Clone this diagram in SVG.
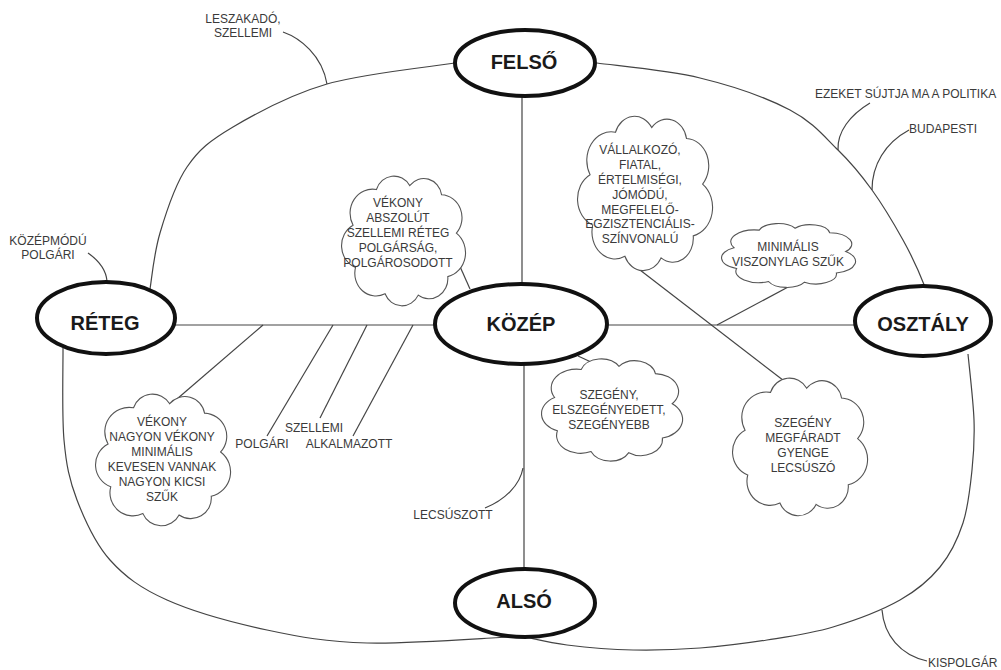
<svg xmlns="http://www.w3.org/2000/svg" xmlns:xlink="http://www.w3.org/1999/xlink" width="1001" height="670" viewBox="0 0 1001 670">
<style>
.bg{fill:#ffffff}
.ln{fill:none;stroke:#444;stroke-width:1.2}
.hub{fill:#ffffff;stroke:#111;stroke-width:4}
.hubt{font-family:"Liberation Sans",Arial,sans-serif;font-weight:bold;font-size:20px;fill:#1a1a1a;text-anchor:middle}
.cloud{fill:#ffffff;stroke:#555;stroke-width:1.1}
.ct{font-family:"Liberation Sans",Arial,sans-serif;font-size:12px;fill:#3a3a3a;text-anchor:middle}
.lt{font-family:"Liberation Sans",Arial,sans-serif;font-size:12px;fill:#3a3a3a}
</style>
<defs>
<path id="cloudShape" vector-effect="non-scaling-stroke" d="M11,70 A17.6,17.6 0 0 1 9,38 A18.2,18.2 0 0 1 28,11 A15,15 0 0 1 55,8 A14.8,14.8 0 0 1 81,15 A17.3,17.3 0 0 1 93,44 A18.6,18.6 0 0 1 86,77 A15.3,15.3 0 0 1 62,91 A14.9,14.9 0 0 1 35,90 A17.2,17.2 0 0 1 11,70 Z"/>
</defs>
<rect class="bg" x="0" y="0" width="1001" height="670"/>
<g id="connectors">
<path class="ln" d="M455,63 C433.7,66.5 364,73.3 327,84 C290,94.7 256.3,113.2 233,127 C209.7,140.8 199.2,149.3 187,167 C174.8,184.7 166.2,212 160,233 C153.8,254 151.7,279 150,289"/>
<path class="ln" d="M63,348 C63.2,363.3 61.7,414.7 64,440 C66.3,465.3 69.3,480 77,500 C84.7,520 95,543.3 110,560 C125,576.7 140.8,588.3 167,600 C193.2,611.7 233.7,622.8 267,630 C300.3,637.2 326.5,641.8 367,643 C407.5,644.2 486.2,638 510,637"/>
<path class="ln" d="M597,63 C614.2,65.5 667.8,70.2 700,78 C732.2,85.8 767,98 790,110 C813,122 824.3,136.7 838,150 C851.7,163.3 861.2,175 872,190 C882.8,205 894.2,224.2 903,240 C911.8,255.8 921.3,277.5 925,287"/>
<path class="ln" d="M968,354 C969,365 973.3,400.7 974,420 C974.7,439.3 973.8,452.8 972,470 C970.2,487.2 968.3,506.8 963,523 C957.7,539.2 950.5,554.2 940,567 C929.5,579.8 917.8,590 900,600 C882.2,610 855.2,620.3 833,627 C810.8,633.7 789.2,636.5 767,640 C744.8,643.5 722.3,646.3 700,648 C677.7,649.7 655.2,650.5 633,650 C610.8,649.5 585,647.2 567,645 C549,642.8 532,638.3 525,637"/>
<line class="ln" x1="522" y1="96" x2="522" y2="284"/>
<line class="ln" x1="524" y1="365" x2="524" y2="569"/>
<line class="ln" x1="175" y1="325" x2="435" y2="325"/>
<line class="ln" x1="607" y1="325" x2="855" y2="325"/>
<path class="ln" d="M283,32 C300,38 322,55 327,84"/>
<path class="ln" d="M88,253 C98,260 106,270 107,281"/>
<path class="ln" d="M870,103 C850,115 837,132 838,150"/>
<path class="ln" d="M909,130 C885,143 872,165 872,190"/>
<path class="ln" d="M882,610 C884,635 900,655 927,661"/>
<path class="ln" d="M485,508 C505,500 520,485 523,468"/>
<line class="ln" x1="450" y1="244" x2="470" y2="289"/>
<line class="ln" x1="640" y1="270" x2="805" y2="397"/>
<line class="ln" x1="790" y1="286" x2="717" y2="325"/>
<line class="ln" x1="170" y1="405" x2="263" y2="325"/>
<line class="ln" x1="578" y1="356" x2="617" y2="374"/>
<line class="ln" x1="333" y1="325" x2="267" y2="436"/>
<line class="ln" x1="367" y1="325" x2="320" y2="418"/>
<line class="ln" x1="413" y1="325" x2="353" y2="436"/>
</g>
<g id="node-felso">
<ellipse class="hub" cx="525" cy="63" rx="70" ry="33"/>
<text class="hubt" x="524" y="69">FELSŐ</text>
</g>
<g id="node-kozep">
<ellipse class="hub" cx="521" cy="324" rx="86" ry="40"/>
<text class="hubt" x="521" y="331">KÖZÉP</text>
</g>
<g id="node-reteg">
<ellipse class="hub" cx="106" cy="318" rx="69" ry="36"/>
<text class="hubt" x="105" y="330">RÉTEG</text>
</g>
<g id="node-osztaly">
<ellipse class="hub" cx="923" cy="321" rx="68" ry="35"/>
<text class="hubt" x="923" y="331">OSZTÁLY</text>
</g>
<g id="node-also">
<ellipse class="hub" cx="525" cy="603" rx="70" ry="34"/>
<text class="hubt" x="524" y="608">ALSÓ</text>
</g>
<g id="cloud-vekony-abszolut">
<use xlink:href="#cloudShape" class="cloud" transform="translate(342,175) scale(1.23,1.32)"/>
<text class="ct" x="398" y="207">VÉKONY</text>
<text class="ct" x="398" y="222">ABSZOLÚT</text>
<text class="ct" x="398" y="237">SZELLEMI RÉTEG</text>
<text class="ct" x="398" y="252">POLGÁRSÁG,</text>
<text class="ct" x="398" y="267">POLGÁROSODOTT</text>
</g>
<g id="cloud-vallalkozo">
<use xlink:href="#cloudShape" class="cloud" transform="translate(578,115) scale(1.34,1.57)"/>
<text class="ct" x="640" y="154">VÁLLALKOZÓ,</text>
<text class="ct" x="640" y="169">FIATAL,</text>
<text class="ct" x="640" y="184">ÉRTELMISÉGI,</text>
<text class="ct" x="640" y="199">JÓMÓDÚ,</text>
<text class="ct" x="640" y="214">MEGFELELŐ-</text>
<text class="ct" x="640" y="228">EGZISZTENCIÁLIS-</text>
<text class="ct" x="640" y="243">SZÍNVONALÚ</text>
</g>
<g id="cloud-minimalis">
<use xlink:href="#cloudShape" class="cloud" transform="translate(722,223) scale(1.33,0.65)"/>
<text class="ct" x="788" y="251">MINIMÁLIS</text>
<text class="ct" x="788" y="266">VISZONYLAG SZŰK</text>
</g>
<g id="cloud-vekony-nagyon">
<use xlink:href="#cloudShape" class="cloud" transform="translate(96,393) scale(1.34,1.34)"/>
<text class="ct" x="162" y="426">VÉKONY</text>
<text class="ct" x="162" y="441">NAGYON VÉKONY</text>
<text class="ct" x="162" y="456">MINIMÁLIS</text>
<text class="ct" x="162" y="471">KEVESEN VANNAK</text>
<text class="ct" x="162" y="486">NAGYON KICSI</text>
<text class="ct" x="162" y="501">SZŰK</text>
</g>
<g id="cloud-szegeny-elszegenyedett">
<use xlink:href="#cloudShape" class="cloud" transform="translate(542,358) scale(1.40,1.04)"/>
<text class="ct" x="609" y="399">SZEGÉNY,</text>
<text class="ct" x="609" y="414">ELSZEGÉNYEDETT,</text>
<text class="ct" x="609" y="429">SZEGÉNYEBB</text>
</g>
<g id="cloud-szegeny-megfaradt">
<use xlink:href="#cloudShape" class="cloud" transform="translate(733,377) scale(1.34,1.40)"/>
<text class="ct" x="803" y="427">SZEGÉNY</text>
<text class="ct" x="803" y="442">MEGFÁRADT</text>
<text class="ct" x="803" y="457">GYENGE</text>
<text class="ct" x="803" y="472">LECSÚSZÓ</text>
</g>
<g id="label-leszakado">
<text class="ct" x="243" y="23">LESZAKADÓ,</text>
<text class="ct" x="243" y="37">SZELLEMI</text>
</g>
<g id="label-kozepmodu">
<text class="ct" x="48" y="245">KÖZÉPMÓDÚ</text>
<text class="ct" x="48" y="259">POLGÁRI</text>
</g>
<g id="label-ezeket">
<text class="lt" x="815" y="98">EZEKET SÚJTJA MA A POLITIKA</text>
</g>
<g id="label-budapesti">
<text class="lt" x="909" y="133">BUDAPESTI</text>
</g>
<g id="label-kispolgar">
<text class="lt" x="928" y="667">KISPOLGÁR</text>
</g>
<g id="label-lecsuszott">
<text class="ct" x="453" y="519">LECSÚSZOTT</text>
</g>
<g id="label-polgari">
<text class="ct" x="262" y="448">POLGÁRI</text>
</g>
<g id="label-szellemi">
<text class="ct" x="314" y="432">SZELLEMI</text>
</g>
<g id="label-alkalmazott">
<text class="ct" x="349" y="448">ALKALMAZOTT</text>
</g>
</svg>
